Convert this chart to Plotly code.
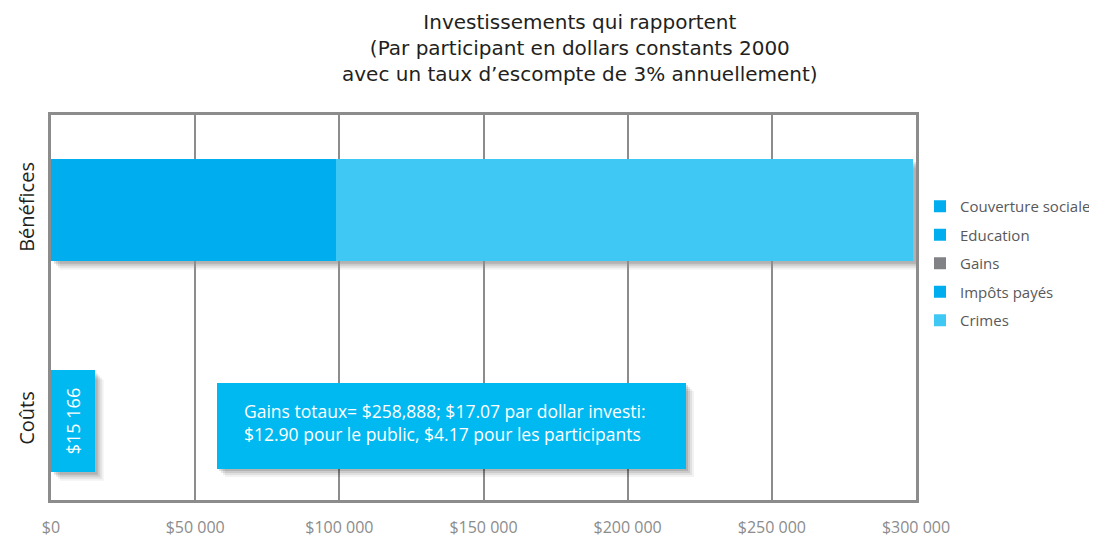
import plotly.graph_objects as go

categories = ["Coûts", "Bénéfices"]
benefit_series = ["Couverture sociale", "Education", "Gains", "Impôts payés", "Crimes"]
benefit_values = [11000, 88000, 0, 0, 200000]
benefit_colors = ["#00AEEF", "#00AEEF", "#808285", "#00AEEF", "#40C8F4"]
cost_value = 15166
cost_label = "$15 166"
x_ticks = [0, 50000, 100000, 150000, 200000, 250000, 300000]
x_ticklabels = ["$0", "$50 000", "$100 000", "$150 000", "$200 000", "$250 000", "$300 000"]
title_lines = ["Investissements qui rapportent",
               "(Par participant en dollars constants 2000",
               "avec un taux d’escompte de 3% annuellement)"]
note_lines = ["Gains totaux= $258,888; $17.07 par dollar investi:",
              "$12.90 pour le public, $4.17 pour les participants"]

FONT = "Open Sans"
OFF = 8                      # default page margin of the html body
W, H = 1097 - OFF, 538 - OFF
PL, PR, PT, PB = 51, 916, 115, 500   # plot area in page pixels
ML, MR, MT, MB = PL - OFF, 1097 - PR, PT - OFF, 538 - PB
PW, PH = PR - PL, PB - PT
BAR_W = 0.48
ypos = {c: i for i, c in enumerate(categories)}


def px(x):
    return (x - PL) / PW


def py(y):
    return (PB - y) / PH


fig = go.Figure()

# drop shadows (derived from the data extents)
total_benefit = sum(benefit_values)
dx, dy = 300000 / PW, 1.824 / PH
for x_end, yc in [(total_benefit, ypos["Bénéfices"]), (cost_value, ypos["Coûts"])]:
    for k, op in [(9, 0.05), (7, 0.07), (5, 0.09), (3, 0.12)]:
        fig.add_shape(type="rect", xref="x", yref="y", layer="below",
                      x0=0 + k * dx, x1=x_end + k * dx,
                      y0=yc - BAR_W / 2 - k * dy, y1=yc + BAR_W / 2 - k * dy,
                      fillcolor="rgba(0,0,0,%.2f)" % op, line_width=0)

for name, val, col in zip(benefit_series, benefit_values, benefit_colors):
    fig.add_trace(go.Bar(
        x=[val], y=[ypos["Bénéfices"]], orientation="h", name=name,
        legendgroup=name,
        marker=dict(color=col, line=dict(width=0)), width=BAR_W,
        hoverinfo="name+x"))

fig.add_trace(go.Bar(
    x=[cost_value], y=[ypos["Coûts"]], orientation="h", name="Coûts",
    marker=dict(color="#00B9F1", line=dict(width=0)), width=BAR_W,
    text=[cost_label], textposition="inside", insidetextanchor="middle",
    textangle=-90, textfont=dict(color="white", size=18, family=FONT),
    showlegend=False))

# note box with shadow
bx0, bx1, by0, by1 = px(217), px(686), py(469), py(383)
for k, op in [(8, 0.05), (6, 0.07), (4, 0.09), (2, 0.12)]:
    fig.add_shape(type="rect", xref="paper", yref="paper",
                  x0=bx0 + k / PW, x1=bx1 + k / PW,
                  y0=by0 - k / PH, y1=by1 - k / PH,
                  fillcolor="rgba(0,0,0,%.2f)" % op, line_width=0)
fig.add_shape(type="rect", xref="paper", yref="paper",
              x0=bx0, x1=bx1, y0=by0, y1=by1,
              fillcolor="#00B9F1", line_width=0)
fig.add_annotation(xref="paper", yref="paper", x=px(242), y=py(422),
                   xanchor="left", yanchor="middle", align="left",
                   text="<br>".join(note_lines), showarrow=False,
                   font=dict(color="white", size=17.5, family=FONT))

# title (three lines, 26 px apart)
fig.add_annotation(xref="paper", yref="paper",
                   x=px(580), y=py(48),
                   xanchor="center", yanchor="middle", showarrow=False,
                   align="center", text="<br>".join(title_lines),
                   font=dict(size=20, color="#231F20", family="DejaVu Sans"))

fig.update_layout(
    width=W, height=H,
    margin=dict(l=ML, r=MR, t=MT, b=MB, autoexpand=False),
    paper_bgcolor="white", plot_bgcolor="white",
    barmode="stack", bargap=0,
    font=dict(family=FONT),
    legend=dict(x=px(920), y=py(190),
                xanchor="left", yanchor="top",
                traceorder="grouped", font=dict(size=15, color="#58595B"),
                itemsizing="constant", tracegroupgap=6),
    xaxis=dict(range=[0, 300000], tickvals=x_ticks, ticktext=x_ticklabels,
               showgrid=True, gridcolor="#8C8C8C", gridwidth=1.5,
               showline=True, linecolor="#8C8C8C", linewidth=3, mirror=True,
               zeroline=False, ticks="", tickfont=dict(size=16, color="#8C8C8C"),
               ticklabelstandoff=11, automargin=False),
    yaxis=dict(range=[-0.374, 1.45], tickvals=list(ypos.values()),
               ticktext=categories, tickangle=-90,
               showgrid=False, showline=True, linecolor="#8C8C8C",
               linewidth=3, mirror=True, zeroline=False, ticks="",
               tickfont=dict(size=20, color="#231F20"), ticklabelstandoff=6,
               automargin=False),
)

fig.write_html("out.html")
